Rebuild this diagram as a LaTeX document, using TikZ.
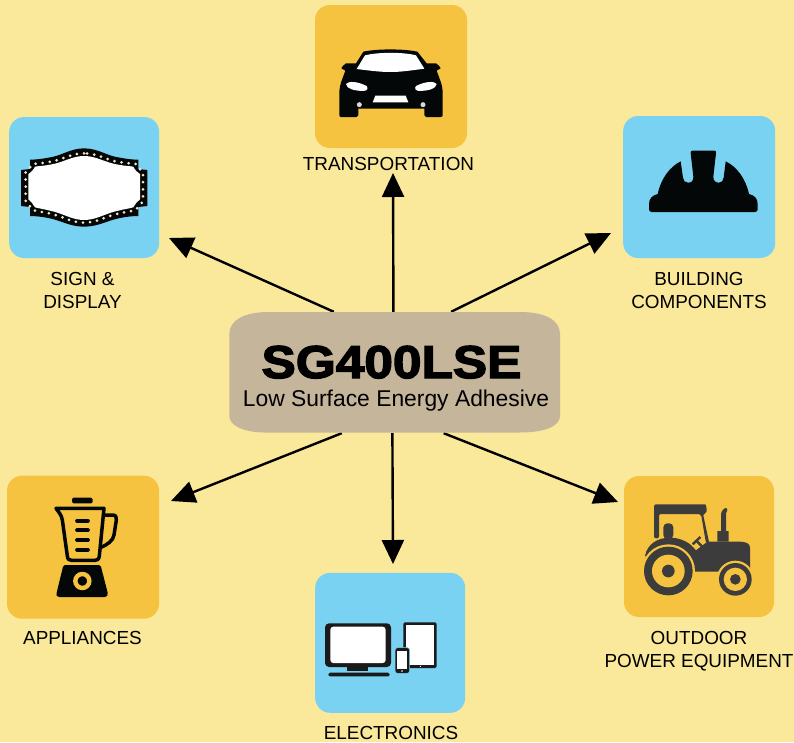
\documentclass[tikz,border=0pt]{standalone}
\usepackage{fontspec}
\setmainfont{Liberation Sans}
\newfontfamily\heavyfont[FakeBold=3,FakeStretch=1.117]{Liberation Sans Bold}
\usetikzlibrary{arrows.meta}
\definecolor{bgc}{RGB}{250,232,155}
\definecolor{yel}{RGB}{245,195,63}
\definecolor{blu}{RGB}{122,210,242}
\definecolor{hubc}{RGB}{196,181,155}
\definecolor{ink}{RGB}{4,7,8}
\definecolor{trac}{RGB}{60,60,60}
\definecolor{devc}{RGB}{26,26,26}
\definecolor{bulb}{RGB}{243,230,192}
\tikzset{
  tile/.style={rectangle,rounded corners=15pt,draw=none,inner sep=0pt},
  lab/.style={anchor=base,font=\fontsize{18.9}{22}\selectfont,text=black,inner sep=0pt},
  ray/.style={line width=2.4pt,draw=black,-{Triangle[length=24pt,width=22pt]}},
  zoomed/.style={x=0.33333pt,y=-0.33333pt},
}
\begin{document}
\begin{tikzpicture}[x=1pt,y=-1pt]
\useasboundingbox (0,0) rectangle (794,742);
\fill[bgc] (0,0) rectangle (794,742);
% tiles
\node[tile,fill=yel,minimum width=152pt,minimum height=143pt] (car) at (391,76.5) {};
\node[tile,fill=blu,minimum width=150pt,minimum height=141pt] (sign) at (84.2,187.5) {};
\node[tile,fill=blu,minimum width=152pt,minimum height=142pt] (helmet) at (699.2,187) {};
\node[tile,fill=yel,minimum width=152pt,minimum height=143pt] (blender) at (83,547.2) {};
\node[tile,fill=blu,minimum width=150pt,minimum height=140pt] (elec) at (390.2,642.8) {};
\node[tile,fill=yel,minimum width=150pt,minimum height=141pt] (tractor) at (699,546.5) {};
% free ends of the connectors
\coordinate (tipT) at (393,173);
\coordinate (tipS) at (169,238);
\coordinate (tipB) at (611,233);
\coordinate (tipA) at (171,501);
\coordinate (tipE) at (393,564);
\coordinate (tipO) at (618,502);
% hub
\node[inner sep=0pt,minimum width=331pt,minimum height=121pt] (hub) at (394.5,372.5) {};
\draw[ray] (hub.91.4) -- (tipT);
\draw[ray] (hub.135) -- (tipS);
\draw[ray] (hub.47.5) -- (tipB);
\draw[ray] (hub.229.6) -- (tipA);
\draw[ray] (hub.268.6) -- (tipE);
\draw[ray] (hub.309.3) -- (tipO);
\fill[hubc] (229.3,334) .. controls (229.3,320) and (245,312) .. (268,312)
  -- (520,312) .. controls (545,312) and (560,320) .. (560,334)
  -- (560,416) .. controls (560,426) and (545,432.5) .. (520,432.5)
  -- (265,432.5) .. controls (245,432.5) and (229.3,426) .. (229.3,416) -- cycle;
\node[anchor=base,inner sep=0pt,font=\heavyfont\fontsize{46}{50}\selectfont] (title) at (391.5,378) {SG400LSE};
\node[anchor=base,inner sep=0pt,font=\fontsize{22.85}{26}\selectfont] (sub) at (396,406.7) {Low Surface Energy Adhesive};
% labels
\node[lab] (lt) at (388.5,170.5) {TRANSPORTATION};
\node[lab] (ls1) at (82.5,285.5) {SIGN \&};
\node[lab] (ls2) at (82.5,308) {DISPLAY};
\node[lab] (lb1) at (699,285.5) {BUILDING};
\node[lab] (lb2) at (699,308) {COMPONENTS};
\node[lab] (la) at (82.5,644.5) {APPLIANCES};
\node[lab] (le) at (391,739) {ELECTRONICS};
\node[lab] (lo1) at (699,644.5) {OUTDOOR};
\node[lab] (lo2) at (699,667.5) {POWER EQUIPMENT};
% car
\begin{scope}[shift={(300,0)},zoomed]
\fill[ink] (190,155) .. controls (230,146) and (312,146) .. (352,155)
  -- (380,190) -- (408,190) .. controls (416,195) and (420,200) .. (422,205) -- (410,212)
  .. controls (418,235) and (428,255) .. (428,275) -- (428,345) .. controls (428,349) and (426,351) .. (422,351)
  -- (378,351) .. controls (375,351) and (373,349) .. (373,346) -- (373,326) -- (175,326) -- (175,346)
  .. controls (175,349) and (173,351) .. (170,351) -- (123,351) .. controls (120,351) and (118,349) .. (118,345)
  -- (118,275) .. controls (118,255) and (128,235) .. (136,212) -- (124,205)
  .. controls (126,200) and (130,195) .. (138,190) -- (168,190) -- cycle;
\fill[white] (195,166) .. controls (235,156) and (310,156) .. (348,166) -- (373,206)
  .. controls (330,212) and (300,216) .. (272,216) .. controls (240,216) and (210,212) .. (170,207) -- cycle;
\fill[white] (138,252) .. controls (145,243) and (170,243) .. (200,258) .. controls (205,265) and (203,272) .. (190,273)
  .. controls (165,272) and (140,268) .. (138,252) -- cycle;
\fill[white] (410,252) .. controls (403,243) and (378,243) .. (348,258) .. controls (343,265) and (345,272) .. (358,273)
  .. controls (383,272) and (408,268) .. (410,252) -- cycle;
\fill[white] (226,287) -- (317,287) -- (325,307) -- (218,307) -- cycle;
\fill[white!85!black] (178,314) circle [radius=7.5];
\fill[white!85!black] (369,314) circle [radius=7.5];
\end{scope}
% sign
\begin{scope}[shift={(0,110)},zoomed]
\fill[ink] (252,115) .. controls (210,115) and (185,138) .. (145,143) .. controls (125,147) and (105,149) .. (90,149)
  -- (90,177) -- (63,180) -- (63,288) -- (90,291) -- (90,318)
  .. controls (105,318) and (125,320) .. (145,324) .. controls (185,332) and (210,350) .. (252,350)
  .. controls (295,350) and (320,332) .. (360,324) .. controls (380,320) and (400,318) .. (415,318)
  -- (415,291) -- (442,288) -- (442,180) -- (415,177) -- (415,149)
  .. controls (400,149) and (380,147) .. (360,143) .. controls (320,138) and (295,115) .. (252,115) -- cycle;
\fill[white] (252,138) .. controls (215,138) and (190,158) .. (150,164) .. controls (130,168) and (115,168) .. (105,170)
  .. controls (100,180) and (92,188) .. (85,192) -- (85,268) .. controls (92,274) and (100,282) .. (105,292)
  .. controls (120,296) and (135,298) .. (150,302) .. controls (190,310) and (215,330) .. (252,330)
  .. controls (290,330) and (315,310) .. (355,302) .. controls (370,298) and (385,296) .. (400,292)
  .. controls (405,282) and (412,274) .. (420,268) -- (420,192) .. controls (412,188) and (405,180) .. (400,170)
  .. controls (390,168) and (375,168) .. (355,164) .. controls (315,158) and (290,138) .. (252,138) -- cycle;
\draw[bulb,line width=3pt,line cap=round,dash pattern=on 0pt off 7.1pt]
  (252,130) .. controls (212,130) and (188,150) .. (148,156) .. controls (128,160) and (110,160) .. (97,162)
  .. controls (92,172) and (85,178) .. (77,186) -- (77,275) .. controls (85,282) and (92,290) .. (97,300)
  .. controls (112,304) and (130,306) .. (148,310) .. controls (188,318) and (212,338) .. (252,338)
  .. controls (292,338) and (318,318) .. (358,310) .. controls (375,306) and (393,304) .. (408,300)
  .. controls (413,290) and (420,282) .. (429,275) -- (429,186) .. controls (420,178) and (413,172) .. (408,162)
  .. controls (395,160) and (378,160) .. (358,156) .. controls (318,150) and (292,130) .. (252,130) -- cycle;
\end{scope}
% helmet
\begin{scope}[shift={(615,110)},zoomed]
\fill[ink] (232,122) -- (298,122) .. controls (302,122) and (304,125) .. (303,130) -- (295,200)
  .. controls (295,213) and (302,218) .. (312,218) .. controls (320,218) and (325,212) .. (326,203) -- (332,154)
  .. controls (365,170) and (392,205) .. (402,252) .. controls (418,256) and (428,265) .. (428,282)
  -- (428,298) .. controls (428,303) and (425,306) .. (420,306) -- (110,306)
  .. controls (105,306) and (102,303) .. (102,298) -- (102,282) .. controls (102,265) and (112,256) .. (128,252)
  .. controls (138,205) and (165,170) .. (197,154) -- (204,203) .. controls (205,212) and (210,218) .. (219,218)
  .. controls (230,218) and (235,213) .. (235,200) -- (227,130) .. controls (226,125) and (228,122) .. (232,122) -- cycle;
\end{scope}
% blender
\begin{scope}[shift={(0,470)},zoomed]
\fill[ink,rounded corners=1.5pt] (216,83) rectangle (278,100);
\draw[ink,line width=3.5pt,line join=round] (168,115) -- (312,115) -- (298,258)
  .. controls (297,268) and (292,271) .. (285,271) -- (215,271) .. controls (207,271) and (203,268) .. (202,258)
  -- (187,150) .. controls (185,135) and (175,125) .. (168,115) -- cycle;
\draw[ink,line width=3.5pt,line cap=round,line join=round] (315,135) -- (338,135)
  .. controls (348,135) and (350,142) .. (349,150) -- (342,195) .. controls (340,212) and (320,225) .. (303,232);
\draw[ink,line width=3.7pt,line cap=round] (231,152) -- (264,152);
\draw[ink,line width=3.7pt,line cap=round] (231,181) -- (264,181);
\draw[ink,line width=3.7pt,line cap=round] (231,210) -- (264,210);
\draw[ink,line width=3.7pt,line cap=round] (231,239) -- (264,239);
\fill[ink] (195,285) -- (297,285) .. controls (300,285) and (302,287) .. (303,290) -- (323,368)
  .. controls (325,376) and (321,381) .. (314,381) -- (178,381) .. controls (171,381) and (167,376) .. (170,368)
  -- (189,290) .. controls (190,287) and (192,285) .. (195,285) -- cycle;
\draw[yel,line width=4.4pt] (247,333) circle [radius=21];
\end{scope}
% electronics
\begin{scope}[shift={(310,570)},zoomed]
\fill[devc,rounded corners=4pt] (45,160) rectangle (243,291);
\fill[white,rounded corners=3pt] (61,170) rectangle (227,279);
\fill[devc] (112,291) rectangle (175,303);
\fill[devc,rounded corners=1.5pt] (55,308) rectangle (239,319);
\fill[devc,rounded corners=1.5pt] (280,157) rectangle (380,294);
\fill[white] (287,165) rectangle (373,285);
\fill[white] (331,289) circle [radius=2];
\filldraw[fill=devc,draw=blu,line width=0.6pt,rounded corners=2.5pt] (255,233) rectangle (299,310);
\fill[white] (262,242) rectangle (292,298);
\fill[white] (276,303) circle [radius=2.5];
\end{scope}
% tractor
\begin{scope}[shift={(620,475)},zoomed]
\fill[trac] (75,243) .. controls (82,205) and (115,188) .. (150,188) .. controls (175,188) and (200,198) .. (215,212)
  -- (228,226) -- (262,200) -- (355,200) .. controls (378,200) and (390,205) .. (390,218) -- (390,290)
  -- (228,290) -- (150,288) -- cycle;
\fill[yel] (145,288) circle [radius=80];
\fill[yel] (346,313) circle [radius=56];
\fill[trac] (145,288) circle [radius=73];
\fill[yel] (145,288) circle [radius=49];
\fill[trac] (145,288) circle [radius=19];
\fill[trac] (346,313) circle [radius=49];
\fill[yel] (346,313) circle [radius=35];
\fill[trac] (346,313) circle [radius=16];
% cab
\fill[trac,rounded corners=2pt] (102,190) -- (102,88) -- (250,88) .. controls (257,88) and (260,95) .. (260,115)
  -- (249,117) -- (268,205) -- (258,205) -- (243,117) -- (117,117) -- (117,190) -- cycle;
\fill[trac,rounded corners=4pt] (130,145) rectangle (160,192);
% steering wheel
\draw[trac,line width=2.4pt] (218,208) -- (241,186);
\draw[trac,line width=2.4pt] (229,197) -- (248,216);
% exhaust
\fill[trac] (292,200) -- (292,168) -- (303,168) -- (303,118) .. controls (304,108) and (312,98) .. (319,99)
  .. controls (324,101) and (323,108) .. (318,115) -- (318,168) -- (326,168) -- (326,200) -- cycle;
\end{scope}
\end{tikzpicture}
\end{document}
